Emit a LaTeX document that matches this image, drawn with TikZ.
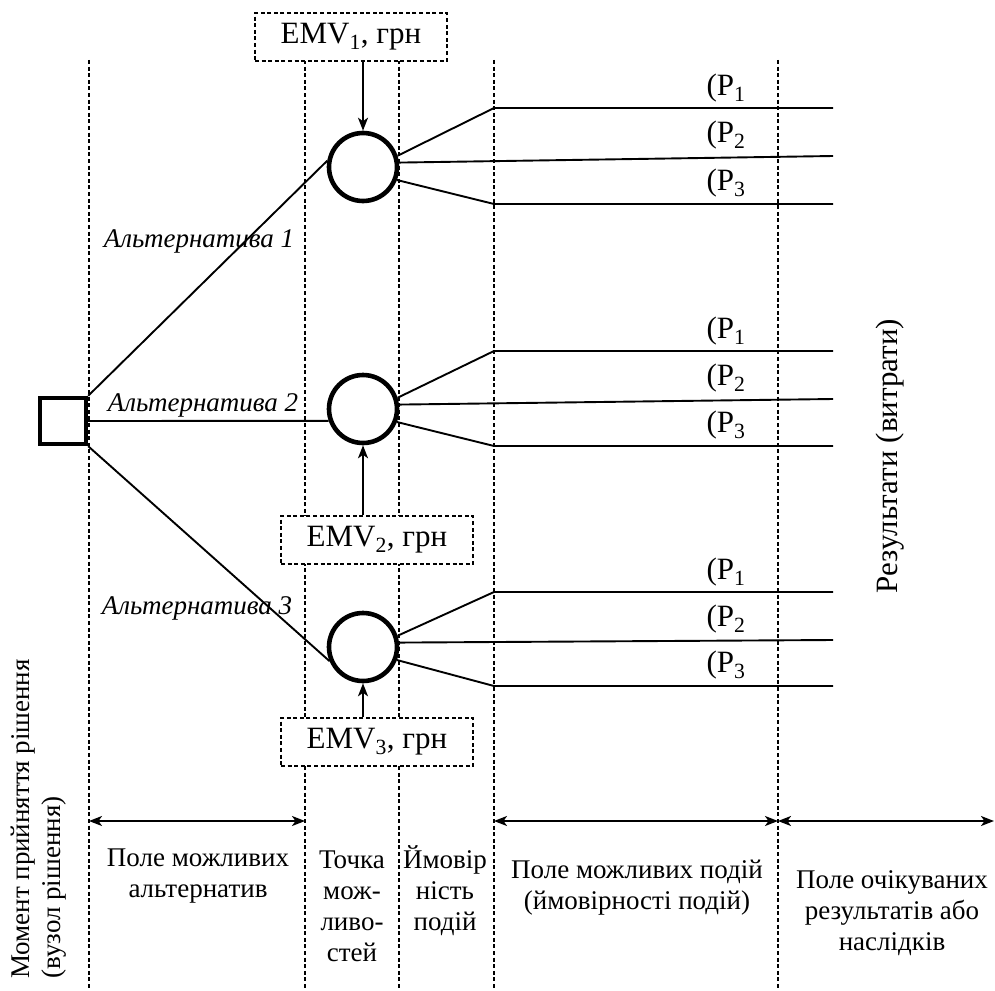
\documentclass[tikz,border=0pt]{standalone}
\usepackage{fontspec}
\setmainfont{Liberation Serif}
\usetikzlibrary{positioning,arrows.meta,calc}

\tikzset{
  guide/.style={dash pattern=on 4pt off 2.6pt, line width=1.3pt},
  branch/.style={line width=1.9pt},
  dimarrow/.style={line width=1.9pt, {Stealth[length=13pt,width=10pt,inset=3.5pt]}-{Stealth[length=13pt,width=10pt,inset=3.5pt]}},
  emvarrow/.style={line width=1.9pt, -{Stealth[length=13pt,width=10pt,inset=3.5pt]}},
  chance/.style={circle, draw, line width=4.6pt, minimum size=68pt, inner sep=0pt},
  decision/.style={rectangle, draw, line width=4.4pt, minimum size=46pt, inner sep=0pt},
  emvbox/.style={draw, fill=white, dash pattern=on 4pt off 2.6pt, line width=1.1pt,
    minimum width=192pt, minimum height=48pt, font=\fontsize{31}{34}\selectfont},
  label/.style={font=\fontsize{27}{31}\selectfont, align=center, inner sep=0pt},
  alttxt/.style={font=\fontsize{27}{30}\selectfont\itshape, inner sep=0pt},
  ptxt/.style={font=\fontsize{31}{34}\selectfont, inner sep=0pt}
}

\begin{document}
\begin{tikzpicture}[x=1pt, y=-1pt]
\useasboundingbox (0,0) rectangle (995,990);

% vertical field borders
\foreach \gx in {89,305,399,494,778}
  \draw[guide] (\gx,60) -- (\gx,990);

\node[decision] (dec) at (63,421) {};

\node[chance] (c1) at (363,167) {};
\node[chance] (c2) at (363,409) {};
\node[chance] (c3) at (363,647) {};

\draw[branch] (dec.north east) -- (c1.170)
              (dec.east) -- (c2.199)
              (dec.south east) -- (c3.203);

\node[alttxt] (alt1) at (199,241) {Альтернатива 1};
\node[alttxt] (alt2) at (203,405) {Альтернатива 2};
\node[alttxt] (alt3) at (197,608) {Альтернатива 3};

% outcome branches
\foreach \n/\ya/\yb/\yc in {1/108/156/204, 2/351/399/446, 3/592/640/686} {
  \coordinate (k\n a) at (494,\ya);
  \coordinate (e\n a) at (833,\ya);
  \coordinate (e\n b) at (833,\yb);
  \coordinate (k\n c) at (494,\yc);
  \coordinate (e\n c) at (833,\yc);
  \draw[branch] (c\n.18) -- (k\n a) -- (e\n a);
  \draw[branch] (c\n.7) -- (e\n b);
  \draw[branch] (c\n.-21) -- (k\n c) -- (e\n c);
  \node[ptxt] (p\n1) at (726,\ya-20) {(P\textsubscript{1}};
  \node[ptxt] (p\n2) at (726,\yb-21) {(P\textsubscript{2}};
  \node[ptxt] (p\n3) at (726,\yc-21) {(P\textsubscript{3}};
}

\node[emvbox] (emv1) at (351,37) {EMV\textsubscript{1}, грн};
\node[emvbox] (emv2) at (377,540) {EMV\textsubscript{2}, грн};
\node[emvbox] (emv3) at (377,742) {EMV\textsubscript{3}, грн};

\draw[emvarrow] (emv1.south -| c1.north) -- (c1.north);
\draw[emvarrow] (emv2.north -| c2.south) -- (c2.south);
\draw[emvarrow] (emv3.north -| c3.south) -- (c3.south);

% field widths
\coordinate (g1) at (89,821);
\coordinate (g2) at (305,821);
\coordinate (g4) at (494,821);
\coordinate (g5) at (778,821);
\coordinate (g6) at (994,821);
\draw[dimarrow] (g1) -- (g2);
\draw[dimarrow] (g4) -- (g5);
\draw[dimarrow] (g5) -- (g6);

\node[label] (altfield) at (198,876) {Поле можливих\\альтернатив};
\node[label] (pointfield) at (352,906) {Точка\\мож-\\ливо-\\стей};
\node[label] (probfield) at (445,891) {Ймовір\\ність\\подій};
\node[label] (eventfield) at (637,888) {Поле можливих подій\\(ймовірності подій)};
\node[label] (resfield) at (892,913) {Поле очікуваних\\результатів або\\наслідків};

\node[label, align=left, rotate=90, anchor=west] (moment) at (39,979)
  {Момент прийняття рішення\\(вузол рішення)};
\node[label, font=\fontsize{31}{34}\selectfont, rotate=90] (results) at (890,456) {Результати (витрати)};

\end{tikzpicture}
\end{document}
